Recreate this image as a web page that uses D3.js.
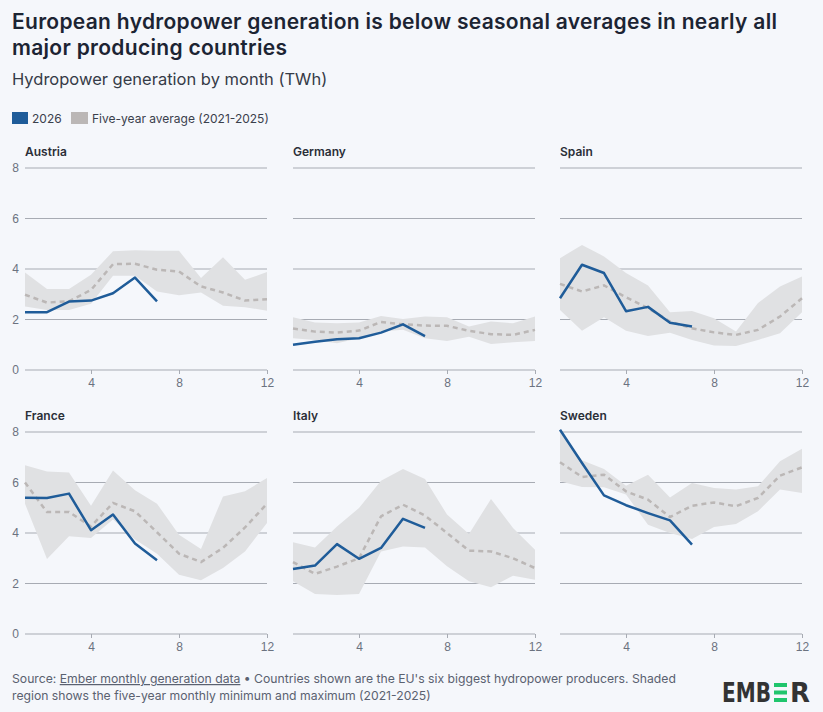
<!DOCTYPE html>
<html>
<head>
<meta charset="utf-8">
<script src="https://cdn.jsdelivr.net/npm/d3@7"></script>
<style>
  html, body { margin: 0; padding: 0; background: #f5f7fb; }
  svg { display: block; font-family: Inter, "Noto Sans", sans-serif; }
  .grid line { stroke: #a7abb3; stroke-width: 1; }
  .tick text { fill: #6b7280; font-size: 12px; }
  .panel-title { fill: #2b2f38; font-size: 12px; font-weight: 600; }
</style>
</head>
<body>
<svg id="chart" width="823" height="712"></svg>
<script>
// Hydropower generation by month (TWh)

const months = [1, 2, 3, 4, 5, 6, 7, 8, 9, 10, 11, 12];
const countries = ["Austria", "Germany", "Spain", "France", "Italy", "Sweden"];
const yTicks = [0, 2, 4, 6, 8];
const xTicks = [4, 8, 12];

// 2026 (January - July)
const austria2026 = [2.29, 2.29, 2.71, 2.75, 3.04, 3.66, 2.72];
const germany2026 = [1.0, 1.12, 1.22, 1.26, 1.48, 1.81, 1.34];
const spain2026 = [2.84, 4.17, 3.84, 2.33, 2.5, 1.87, 1.72];
const france2026 = [5.4, 5.39, 5.56, 4.11, 4.73, 3.58, 2.92];
const italy2026 = [2.57, 2.71, 3.56, 2.98, 3.41, 4.56, 4.2];
const sweden2026 = [8.09, 6.77, 5.49, 5.1, 4.79, 4.5, 3.54];

// Five-year average (2021-2025)
const austriaAvg = [2.98, 2.67, 2.72, 3.17, 4.19, 4.21, 3.97, 3.9, 3.31, 3.07, 2.75, 2.8];
const germanyAvg = [1.64, 1.52, 1.48, 1.56, 1.9, 1.81, 1.76, 1.75, 1.55, 1.42, 1.39, 1.59];
const spainAvg = [3.41, 3.11, 3.35, 2.88, 2.45, 1.92, 1.65, 1.49, 1.39, 1.59, 2.12, 2.84];
const franceAvg = [6.0, 4.83, 4.83, 4.26, 5.19, 4.86, 4.03, 3.18, 2.85, 3.41, 4.22, 5.16];
const italyAvg = [2.85, 2.38, 2.67, 3.0, 4.66, 5.12, 4.69, 4.0, 3.3, 3.27, 3.0, 2.61];
const swedenAvg = [6.8, 6.22, 6.31, 5.65, 5.32, 4.63, 5.08, 5.21, 5.06, 5.39, 6.27, 6.6];

// Five-year monthly minimum
const austriaMin = [2.51, 2.38, 2.38, 2.62, 3.73, 3.73, 3.11, 2.96, 3.07, 2.54, 2.49, 2.35];
const germanyMin = [1.26, 1.19, 1.06, 1.26, 1.52, 1.59, 1.26, 1.15, 1.32, 1.03, 1.1, 1.15];
const spainMin = [2.38, 1.55, 2.09, 1.55, 1.35, 1.48, 1.19, 0.97, 0.95, 1.19, 1.46, 2.29];
const franceMin = [5.16, 2.97, 3.87, 3.8, 4.53, 3.74, 3.18, 2.35, 2.13, 2.61, 3.27, 4.4];
const italyMin = [2.09, 1.58, 1.54, 1.58, 3.27, 3.47, 3.43, 2.68, 2.09, 1.85, 2.31, 2.15];
const swedenMin = [6.05, 5.82, 5.81, 5.52, 4.33, 4.0, 3.76, 4.24, 4.36, 4.86, 5.72, 5.58];

// Five-year monthly maximum
const austriaMax = [3.86, 3.21, 3.21, 3.77, 4.7, 4.74, 4.72, 4.72, 3.64, 4.47, 3.57, 3.88];
const germanyMax = [2.09, 1.88, 1.85, 1.88, 2.14, 2.02, 2.12, 2.09, 1.72, 1.92, 1.85, 2.12];
const spainMax = [4.43, 4.95, 4.5, 3.84, 3.35, 2.29, 2.34, 2.05, 1.52, 2.65, 3.31, 3.7];
const franceMax = [6.68, 6.44, 6.4, 5.08, 6.48, 5.69, 5.16, 3.93, 3.37, 5.45, 5.65, 6.18];
const italyMax = [3.63, 3.43, 4.26, 4.99, 6.07, 6.53, 6.14, 4.73, 3.96, 5.35, 4.2, 3.34];
const swedenMax = [8.0, 6.88, 6.53, 5.87, 6.31, 5.41, 5.98, 5.78, 5.72, 5.85, 6.84, 7.34];

const series2026 = [austria2026, germany2026, spain2026, france2026, italy2026, sweden2026];
const seriesAvg = [austriaAvg, germanyAvg, spainAvg, franceAvg, italyAvg, swedenAvg];
const seriesMin = [austriaMin, germanyMin, spainMin, franceMin, italyMin, swedenMin];
const seriesMax = [austriaMax, germanyMax, spainMax, franceMax, italyMax, swedenMax];

const BLUE = "#1f5c99";
const AVG_GREY = "#bbb7b6";
const BAND = "#e0e1e3";
const TEXT = "#1c2433";

const svg = d3.select("#chart");

// Header
svg.append("text")
  .attr("x", 12).attr("y", 29)
  .attr("fill", TEXT).attr("font-size", 21).attr("font-weight", 600)
  .attr("letter-spacing", 0.3)
  .text("European hydropower generation is below seasonal averages in nearly all");
svg.append("text")
  .attr("x", 12).attr("y", 55)
  .attr("fill", TEXT).attr("font-size", 21).attr("font-weight", 600)
  .attr("letter-spacing", 0.3)
  .text("major producing countries");
svg.append("text")
  .attr("x", 12).attr("y", 85)
  .attr("fill", "#353b47").attr("font-size", 16.5)
  .text("Hydropower generation by month (TWh)");

// Legend
const legend = svg.append("g").attr("transform", "translate(12,112)");
legend.append("rect").attr("width", 16).attr("height", 12).attr("fill", BLUE);
legend.append("text").attr("x", 20).attr("y", 10.5)
  .attr("font-size", 12).attr("fill", "#3a404c").text("2026");
legend.append("rect").attr("x", 59).attr("width", 17).attr("height", 12).attr("fill", AVG_GREY);
legend.append("text").attr("x", 80).attr("y", 10.5)
  .attr("font-size", 12).attr("fill", "#3a404c").text("Five-year average (2021-2025)");

// Small multiples
const colX = [25, 293, 560];
const rowY = [168, 432];
const panelW = 242;
const panelH = 202;

countries.forEach((name, i) => {
  const col = i % 3;
  const row = Math.floor(i / 3);
  const x0 = colX[col];
  const y0 = rowY[row];

  const x = d3.scaleLinear().domain([1, 12]).range([0, panelW]);
  const y = d3.scaleLinear().domain([0, 8]).range([panelH, 0]);

  const g = svg.append("g").attr("transform", `translate(${x0},${y0})`);

  g.append("text")
    .attr("class", "panel-title")
    .attr("x", 0).attr("y", -12)
    .text(name);

  // Gridlines
  g.append("g")
    .attr("class", "grid")
    .selectAll("line")
    .data(yTicks)
    .join("line")
    .attr("x1", 0).attr("x2", panelW)
    .attr("y1", (d) => y(d)).attr("y2", (d) => y(d));

  // X axis
  const xAxis = g.append("g")
    .attr("transform", `translate(0,${panelH})`)
    .call(d3.axisBottom(x).tickValues(xTicks).tickSize(4).tickPadding(4));
  xAxis.select(".domain").remove();
  xAxis.selectAll(".tick line").attr("stroke", "#a7abb3");

  // Y labels only on the first column
  if (col === 0) {
    const yAxis = g.append("g")
      .call(d3.axisLeft(y).tickValues(yTicks).tickSize(0).tickPadding(6));
    yAxis.select(".domain").remove();
  }

  const minV = seriesMin[i];
  const maxV = seriesMax[i];
  const bandData = months.map((m, k) => ({ m, lo: minV[k], hi: maxV[k] }));

  g.append("path")
    .datum(bandData)
    .attr("fill", BAND)
    .attr("d", d3.area()
      .x((d) => x(d.m))
      .y0((d) => y(d.lo))
      .y1((d) => y(d.hi)));

  g.append("path")
    .datum(seriesAvg[i])
    .attr("fill", "none")
    .attr("stroke", AVG_GREY)
    .attr("stroke-width", 2.5)
    .attr("stroke-dasharray", "5,4")
    .attr("d", d3.line()
      .x((d, k) => x(months[k]))
      .y((d) => y(d)));

  g.append("path")
    .datum(series2026[i])
    .attr("fill", "none")
    .attr("stroke", BLUE)
    .attr("stroke-width", 2.5)
    .attr("stroke-linejoin", "round")
    .attr("d", d3.line()
      .x((d, k) => x(months[k]))
      .y((d) => y(d)));
});

// Footer
const foot = svg.append("text")
  .attr("x", 12).attr("y", 683)
  .attr("font-size", 12.2).attr("fill", "#5a6170");
foot.append("tspan").text("Source: ");
foot.append("tspan").attr("text-decoration", "underline").text("Ember monthly generation data");
foot.append("tspan").text(" \u2022 Countries shown are the EU's six biggest hydropower producers. Shaded");
svg.append("text")
  .attr("x", 12).attr("y", 700)
  .attr("font-size", 12.2).attr("fill", "#5a6170")
  .text("region shows the five-year monthly minimum and maximum (2021-2025)");

// EMBER logo
const logo = svg.append("g").attr("transform", "translate(722,702)");
logo.append("text")
  .attr("font-family", "'DejaVu Sans', sans-serif")
  .attr("font-weight", 700).attr("font-size", 26).attr("fill", "#333")
  .attr("textLength", 49).attr("lengthAdjust", "spacingAndGlyphs")
  .text("EMB");
logo.append("g")
  .selectAll("rect")
  .data([0, 1, 2])
  .join("rect")
  .attr("x", 52).attr("y", (d) => -19 + d * 7.5)
  .attr("width", 13).attr("height", 4)
  .attr("fill", "#20c56c");
logo.append("text")
  .attr("x", 68)
  .attr("font-family", "'DejaVu Sans', sans-serif")
  .attr("font-weight", 700).attr("font-size", 26).attr("fill", "#333")
  .attr("textLength", 20).attr("lengthAdjust", "spacingAndGlyphs")
  .text("R");
</script>
</body>
</html>
